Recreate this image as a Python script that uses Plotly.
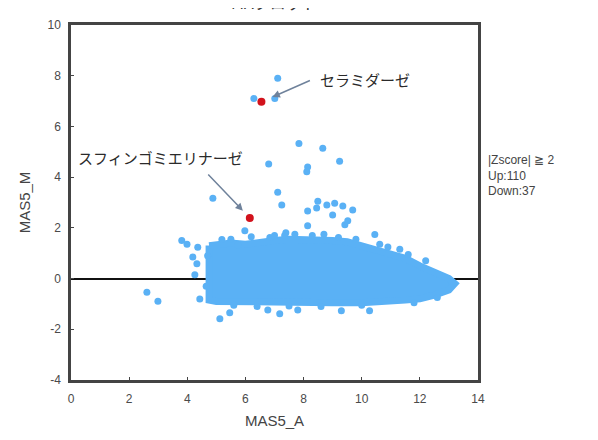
import plotly.graph_objects as go

# ---- data ----
# dense cloud envelope (marker-centre positions)
blob_upper_A = [4.75, 5.0, 5.5, 6.0, 6.5, 7.0, 7.5, 8.0, 8.5, 9.0, 9.5, 10.0, 10.5, 11.0, 11.5, 12.0, 12.5, 13.0, 13.2]
blob_upper_M = [1.3, 1.35, 1.4, 1.35, 1.45, 1.5, 1.55, 1.55, 1.55, 1.5, 1.45, 1.3, 1.15, 1.0, 0.8, 0.5, 0.25, 0.0, -0.2]
blob_lower_A = [13.0, 12.5, 12.0, 11.5, 11.0, 10.5, 10.0, 9.0, 8.0, 7.0, 6.0, 5.5, 5.0, 4.75]
blob_lower_M = [-0.45, -0.65, -0.8, -0.85, -0.9, -0.95, -0.95, -0.95, -0.95, -0.95, -0.95, -0.95, -0.9, -0.85]

# individually visible genes
out_A = [6.29, 7.11, 7.01, 7.84, 8.66, 9.24, 6.80, 8.14, 8.11, 4.88, 7.11, 7.25, 8.14, 8.49, 8.45,
         8.80, 9.07, 9.00, 9.35, 9.69, 9.42, 9.52, 8.14, 5.98, 7.39, 10.45, 10.62, 11.31,
         3.81, 3.99, 4.36, 4.19, 4.33, 4.26, 4.43, 5.12, 5.46, 6.77, 7.18, 7.80, 2.61, 2.99,
         9.30, 10.27, 5.19, 5.74, 6.84, 7.35]
out_M = [7.10, 7.90, 7.10, 5.33, 5.14, 4.63, 4.52, 4.40, 4.21, 3.17, 3.40, 2.90, 2.66, 3.05, 2.78,
         2.90, 2.97, 2.51, 2.86, 2.70, 2.12, 2.28, 2.08, 1.89, 1.81, 1.74, 1.35, 1.16,
         1.50, 1.35, 1.24, 0.85, 0.58, 0.15, -0.81, -1.58, -1.35, -1.24, -1.39, -1.24, -0.54, -0.89,
         -1.27, -1.27, 1.54, 1.31, 1.62, 1.70]

# genes on the ragged edge of the cloud
edge_A = [5.5, 6.2, 7.0, 7.7, 8.3, 8.7, 9.2, 9.8, 10.9, 11.6, 12.2,
          5.6, 6.4, 7.5, 8.6, 10.0, 11.8, 12.6, 4.7, 4.65]
edge_M = [1.55, 1.65, 1.7, 1.75, 1.7, 1.75, 1.62, 1.55, 1.25, 0.95, 0.7,
          -1.05, -1.1, -1.08, -1.1, -1.05, -0.95, -0.75, 0.9, -0.3]

# highlighted genes
hl_names = ["セラミダーゼ", "スフィンゴミエリナーゼ"]
hl_A = [6.55, 6.15]
hl_M = [6.97, 2.39]

x_ticks = [0, 2, 4, 6, 8, 10, 12, 14]
y_ticks = [-4, -2, 0, 2, 4, 6, 8, 10]

BLUE = "#5AB1F5"
RED = "#D2121C"
GREY = "#444444"
FONT = "Liberation Sans, Arial, sans-serif"
JFONT = "Noto Sans CJK JP, sans-serif"

fig = go.Figure()

fig.add_trace(go.Scatter(
    x=blob_upper_A + blob_lower_A + blob_upper_A[:1],
    y=blob_upper_M + blob_lower_M + blob_upper_M[:1],
    mode="lines", fill="toself", fillcolor=BLUE,
    line=dict(color=BLUE, width=7), hoverinfo="skip", showlegend=False))

fig.add_trace(go.Scatter(
    x=out_A + edge_A, y=out_M + edge_M, mode="markers",
    marker=dict(color=BLUE, size=7, line=dict(width=0)), showlegend=False))

fig.add_trace(go.Scatter(
    x=hl_A, y=hl_M, mode="markers", text=hl_names,
    marker=dict(color=RED, size=8, line=dict(width=0)), showlegend=False))

# arrows and labels
arrow_tail = [(50, -22), (-43, -45)]
arrow_standoff = [12, 10]
label_shift = [(104, 22), (-89, 60)]
for i, name in enumerate(hl_names):
    fig.add_annotation(x=hl_A[i], y=hl_M[i], text="", showarrow=True,
                       ax=arrow_tail[i][0], ay=arrow_tail[i][1], axref="pixel", ayref="pixel",
                       arrowhead=2, arrowsize=1, arrowwidth=1.5, arrowcolor="#6F829B",
                       standoff=arrow_standoff[i])
    fig.add_annotation(x=hl_A[i], y=hl_M[i], text=name, showarrow=False,
                       xshift=label_shift[i][0], yshift=label_shift[i][1],
                       font=dict(family=JFONT, size=15, color="#2a2a2a"))

fig.add_annotation(xref="paper", yref="paper", x=1.02, y=0.645, xanchor="left", yanchor="top",
                   align="left", showarrow=False,
                   text="|Zscore| ≧ 2<br>Up:110<br>Down:37",
                   font=dict(family=FONT, size=12, color=GREY))

fig.add_annotation(xref="paper", yref="paper", x=0.5, y=1.025, xanchor="center", yanchor="bottom",
                   showarrow=False, text="MAプロット",
                   font=dict(family=JFONT, size=16, color="#333333"))

fig.update_xaxes(range=[0, 14], tickvals=x_ticks, ticktext=[str(v) for v in x_ticks],
                 showgrid=False, zeroline=False, showline=True, mirror=True,
                 linecolor="#444444", linewidth=2.5, ticks="inside", ticklen=3, tickcolor="#444444",
                 ticklabelstandoff=6,
                 tickfont=dict(family=FONT, size=12, color="#4a4a4a"),
                 title=dict(text="MAS5_A", standoff=11, font=dict(family=FONT, size=15, color=GREY)))
fig.update_yaxes(range=[-4, 10], tickvals=y_ticks, ticktext=[str(v) for v in y_ticks],
                 showgrid=False, zeroline=True, zerolinecolor="#111111", zerolinewidth=1.5,
                 showline=True, mirror=True,
                 linecolor="#444444", linewidth=2.5, ticks="inside", ticklen=3, tickcolor="#444444",
                 ticklabelstandoff=5,
                 tickfont=dict(family=FONT, size=12, color="#4a4a4a"),
                 title=dict(text="MAS5_M", standoff=14, font=dict(family=FONT, size=15, color=GREY)))

fig.update_layout(width=590, height=432, autosize=False,
                  margin=dict(l=63, r=120, t=10, b=60),
                  plot_bgcolor="white", paper_bgcolor="white")

fig.write_html("out.html")
